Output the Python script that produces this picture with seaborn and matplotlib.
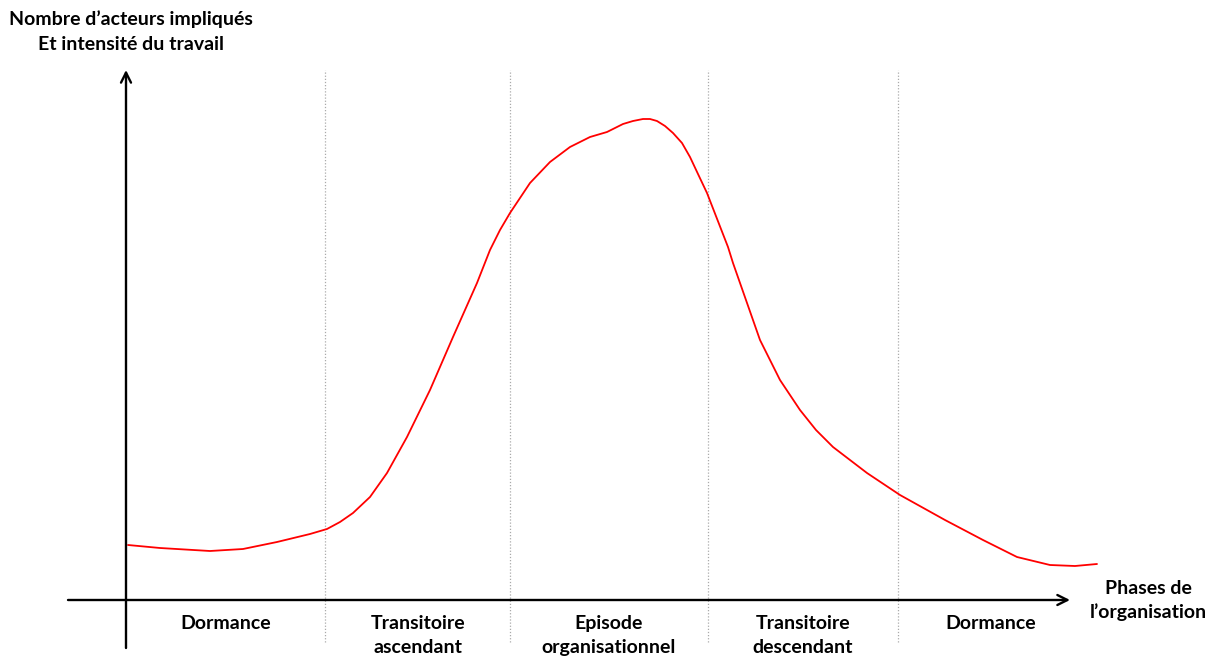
import matplotlib
matplotlib.use("Agg")
import matplotlib.pyplot as plt
import seaborn as sns
import pandas as pd

sns.set_theme(style="white")
plt.rcParams['font.family'] = ['Lato', 'DejaVu Sans']

# Data (x: position along phases, y: actors/intensity)
curve_x = [2, 34, 84, 117, 151, 184, 201, 214, 227, 244, 261, 281, 304, 327, 351,
           364, 374, 384, 404, 424, 444, 464, 481, 497, 507, 517, 524, 531,
           539, 547, 556, 564, 572, 581, 602, 607, 634, 654, 674, 690, 707, 741,
           774, 819, 857, 891, 924, 949, 971]
curve_y = [55, 52, 49, 51, 58, 66, 71, 78, 87, 103, 127, 163, 210, 263, 317,
           350, 370, 387, 417, 438, 453, 463, 468, 476, 479, 481, 481, 479,
           474, 467, 457, 443, 426, 407, 353, 337, 260, 220, 190, 170, 153, 127,
           105, 80, 60, 43, 35, 34, 36]
phase_bounds = [199, 384, 582, 772]
phase_labels = ["Dormance", "Transitoire\nascendant", "Episode\norganisationnel",
                "Transitoire\ndescendant", "Dormance"]
phase_centers = [100, 292, 483, 677, 865]
y_label = "Nombre d\u2019acteurs impliqués\nEt intensité du travail"
x_label = "Phases de\nl\u2019organisation"

df = pd.DataFrame({"x": curve_x, "y": curve_y})

fig = plt.figure(figsize=(12.12, 6.58), dpi=100)
ax = fig.add_axes([0, 0, 1, 1])
ax.set_xlim(-126, 1212 - 126)
ax.set_ylim(-58, 600)
ax.axis("off")

for b in phase_bounds:
    ax.plot([b, b], [-42, 530], color="#aaaaaa", lw=0.9, ls=(0, (1, 1.5)), zorder=1)

sns.lineplot(data=df, x="x", y="y", color="#ff0000", lw=1.3, ax=ax, zorder=3)

# axes arrows
ax.annotate("", xy=(0, 530), xytext=(0, -48),
            arrowprops=dict(arrowstyle="->", lw=1.7, color="black",
                            mutation_scale=18, shrinkA=0, shrinkB=0))
ax.annotate("", xy=(944, 0), xytext=(-58, 0),
            arrowprops=dict(arrowstyle="->", lw=1.7, color="black",
                            mutation_scale=18, shrinkA=0, shrinkB=0))

for c, lab in zip(phase_centers, phase_labels):
    ax.text(c, -15, lab, ha="center", va="top", fontsize=14,
            fontweight="bold", linespacing=1.48, color="black")

ax.text(5, 590, y_label, ha="center", va="top", fontsize=14,
        fontweight="bold", linespacing=1.6, color="black")
ax.text(1022, 20, x_label, ha="center", va="top", fontsize=14,
        fontweight="bold", linespacing=1.4, color="black")

fig.savefig("out.png", dpi=100)
